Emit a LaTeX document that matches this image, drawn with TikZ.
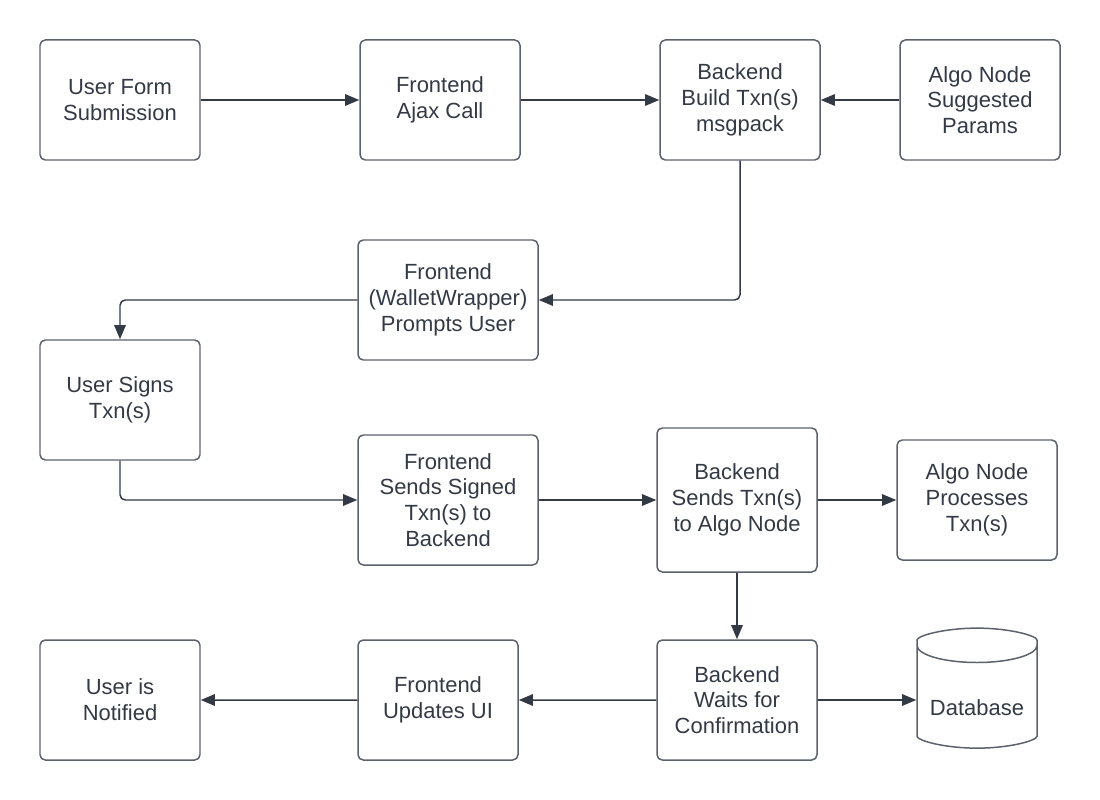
\documentclass[tikz,border=0pt]{standalone}
\usepackage{fontspec}
\setmainfont{Liberation Sans}
\usepackage{xcolor}
\usetikzlibrary{positioning, arrows.meta, shapes.geometric}

\definecolor{ink}{HTML}{333A45}
\definecolor{edge}{HTML}{5C626B}

\begin{document}
\begin{tikzpicture}[->,>={Triangle[length=8pt,width=6.5pt]},line width=0.85pt,draw=ink,node distance=6.4cm,rounded corners=3pt]
        \tikzstyle{block}=[draw=edge,text=ink,align=center,minimum width=3.2cm,minimum height=2.4cm,inner sep=2pt,font=\fontsize{12.5}{14.7}\selectfont]
        \tikzstyle{store}=[block,cylinder,shape border rotate=90,aspect=0.34,minimum width=2.4cm,minimum height=2.4cm]

        \useasboundingbox (0,0) rectangle (22,-16);

        % top row
        \node[block] (form)   at (2.4,-2)                  {User Form\\Submission};
        \node[block] (ajax)   [right of=form]              {Frontend\\Ajax Call};
        \node[block] (build)  [right of=ajax, node distance=6cm]   {Backend\\Build Txn(s)\\msgpack};
        \node[block] (params) [right of=build, node distance=4.8cm] {Algo Node\\Suggested\\Params};

        % signing
        \node[block, minimum width=3.6cm] (prompt) at (8.96,-6)  {Frontend\\(WalletWrapper)\\Prompts User};
        \node[block] (sign)   [below of=form, node distance=6cm] {User Signs\\Txn(s)};

        % sending
        \node[block, minimum width=3.6cm, minimum height=2.6cm] (signed) at (8.96,-10) {Frontend\\Sends Signed\\Txn(s) to\\Backend};
        \node[block, minimum height=2.88cm] (send) at (14.74,-10) {Backend\\Sends Txn(s)\\to Algo Node};
        \node[block] (process) [right of=send, node distance=4.8cm] {Algo Node\\Processes\\Txn(s)};

        % bottom row
        \node[block] (wait)   [below of=send, node distance=4cm] {Backend\\Waits for\\Confirmation};
        \node[store] (db)     [right of=wait, node distance=4.8cm] {\raisebox{-9pt}[0pt][0pt]{Database}};
        \node[block] (ui)     at (8.76,-14)                {Frontend\\Updates UI};
        \node[block] (notify) [below of=sign, node distance=6cm] {User is\\Notified};

        \path (form) edge (ajax)
              (ajax) edge (build)
              (params) edge (build);
        \draw (build) |- (prompt);
        \draw (prompt) -| (sign);
        \draw (sign) |- (signed);
        \path (signed) edge (send)
              (send) edge (process)
              (send) edge (wait)
              (wait) edge (ui)
              (ui) edge (notify)
              (wait) edge (db);
    \end{tikzpicture}
\end{document}
